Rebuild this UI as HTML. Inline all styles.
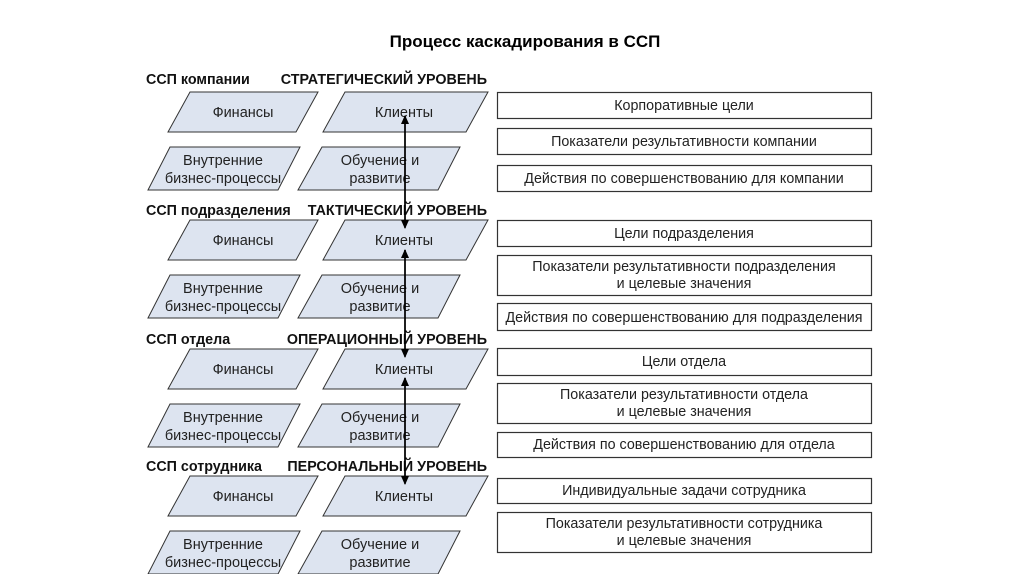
<!DOCTYPE html>
<html><head><meta charset="utf-8"><style>
html,body{margin:0;padding:0;background:#fff;}
svg{display:block;}
text{font-family:"Liberation Sans",sans-serif;}
</style></head><body>
<svg width="1024" height="574" viewBox="0 0 1024 574" xmlns="http://www.w3.org/2000/svg">
<defs>
<marker id="ah" markerWidth="10" markerHeight="10" refX="8" refY="4" orient="auto" markerUnits="userSpaceOnUse">
<path d="M0,0 L9,4 L0,8 z" fill="#000"/></marker>
<g id="lvl">
<polygon points="190,0 318,0 296,40 168,40" fill="#dde4f0" stroke="#333" stroke-width="1"/>
<text x="243" y="25" font-size="14.5" text-anchor="middle" fill="#222">Финансы</text>
<polygon points="345,0 488,0 466,40 323,40" fill="#dde4f0" stroke="#333" stroke-width="1"/>
<text x="404" y="25" font-size="14.5" text-anchor="middle" fill="#222">Клиенты</text>
<polygon points="170,55 300,55 278,98 148,98" fill="#dde4f0" stroke="#333" stroke-width="1"/>
<text x="223" y="73" font-size="14.5" text-anchor="middle" fill="#222">Внутренние</text>
<text x="223" y="91" font-size="14.5" text-anchor="middle" fill="#222">бизнес-процессы</text>
<polygon points="322,55 460,55 438,98 298,98" fill="#dde4f0" stroke="#333" stroke-width="1"/>
<text x="380" y="73" font-size="14.5" text-anchor="middle" fill="#222">Обучение и</text>
<text x="380" y="91" font-size="14.5" text-anchor="middle" fill="#222">развитие</text>
</g>
</defs>
<text x="525" y="47" font-size="17" font-weight="bold" text-anchor="middle">Процесс каскадирования в ССП</text>

<g font-size="14.3" font-weight="bold" fill="#111">
<text x="146" y="84">ССП компании</text><text x="487" y="84" text-anchor="end">СТРАТЕГИЧЕСКИЙ УРОВЕНЬ</text>
<text x="146" y="215">ССП подразделения</text><text x="487" y="215" text-anchor="end">ТАКТИЧЕСКИЙ УРОВЕНЬ</text>
<text x="146" y="344">ССП отдела</text><text x="487" y="344" text-anchor="end">ОПЕРАЦИОННЫЙ УРОВЕНЬ</text>
<text x="146" y="471">ССП сотрудника</text><text x="487" y="471" text-anchor="end">ПЕРСОНАЛЬНЫЙ УРОВЕНЬ</text>
</g>

<use href="#lvl" transform="translate(0,92)"/>
<use href="#lvl" transform="translate(0,220)"/>
<use href="#lvl" transform="translate(0,349)"/>
<use href="#lvl" transform="translate(0,476)"/>

<g stroke="#000" stroke-width="1.5" fill="none">
<line x1="405" y1="226" x2="405" y2="116" marker-end="url(#ah)"/>
<line x1="405" y1="116" x2="405" y2="228" marker-end="url(#ah)"/>
<line x1="405" y1="355" x2="405" y2="250" marker-end="url(#ah)"/>
<line x1="405" y1="250" x2="405" y2="357" marker-end="url(#ah)"/>
<line x1="405" y1="482" x2="405" y2="378" marker-end="url(#ah)"/>
<line x1="405" y1="378" x2="405" y2="484" marker-end="url(#ah)"/>
</g>

<g fill="#fff" stroke="#333" stroke-width="1.2">
<rect x="497.5" y="92.5" width="374" height="26"/>
<rect x="497.5" y="128.5" width="374" height="26"/>
<rect x="497.5" y="165.5" width="374" height="26"/>
<rect x="497.5" y="220.5" width="374" height="26"/>
<rect x="497.5" y="255.5" width="374" height="40"/>
<rect x="497.5" y="303.5" width="374" height="27"/>
<rect x="497.5" y="348.5" width="374" height="27"/>
<rect x="497.5" y="383.5" width="374" height="40"/>
<rect x="497.5" y="432.5" width="374" height="25"/>
<rect x="497.5" y="478.5" width="374" height="25"/>
<rect x="497.5" y="512.5" width="374" height="40"/>
</g>
<g font-size="14.3" text-anchor="middle" fill="#222">
<text x="684" y="110">Корпоративные цели</text>
<text x="684" y="146">Показатели результативности компании</text>
<text x="684" y="183">Действия по совершенствованию для компании</text>
<text x="684" y="238">Цели подразделения</text>
<text x="684" y="271">Показатели результативности подразделения</text>
<text x="684" y="288">и целевые значения</text>
<text x="684" y="322">Действия по совершенствованию для подразделения</text>
<text x="684" y="366">Цели отдела</text>
<text x="684" y="399">Показатели результативности отдела</text>
<text x="684" y="416">и целевые значения</text>
<text x="684" y="449">Действия по совершенствованию для отдела</text>
<text x="684" y="495">Индивидуальные задачи сотрудника</text>
<text x="684" y="528">Показатели результативности сотрудника</text>
<text x="684" y="545">и целевые значения</text>
</g>
</svg>
</body></html>
